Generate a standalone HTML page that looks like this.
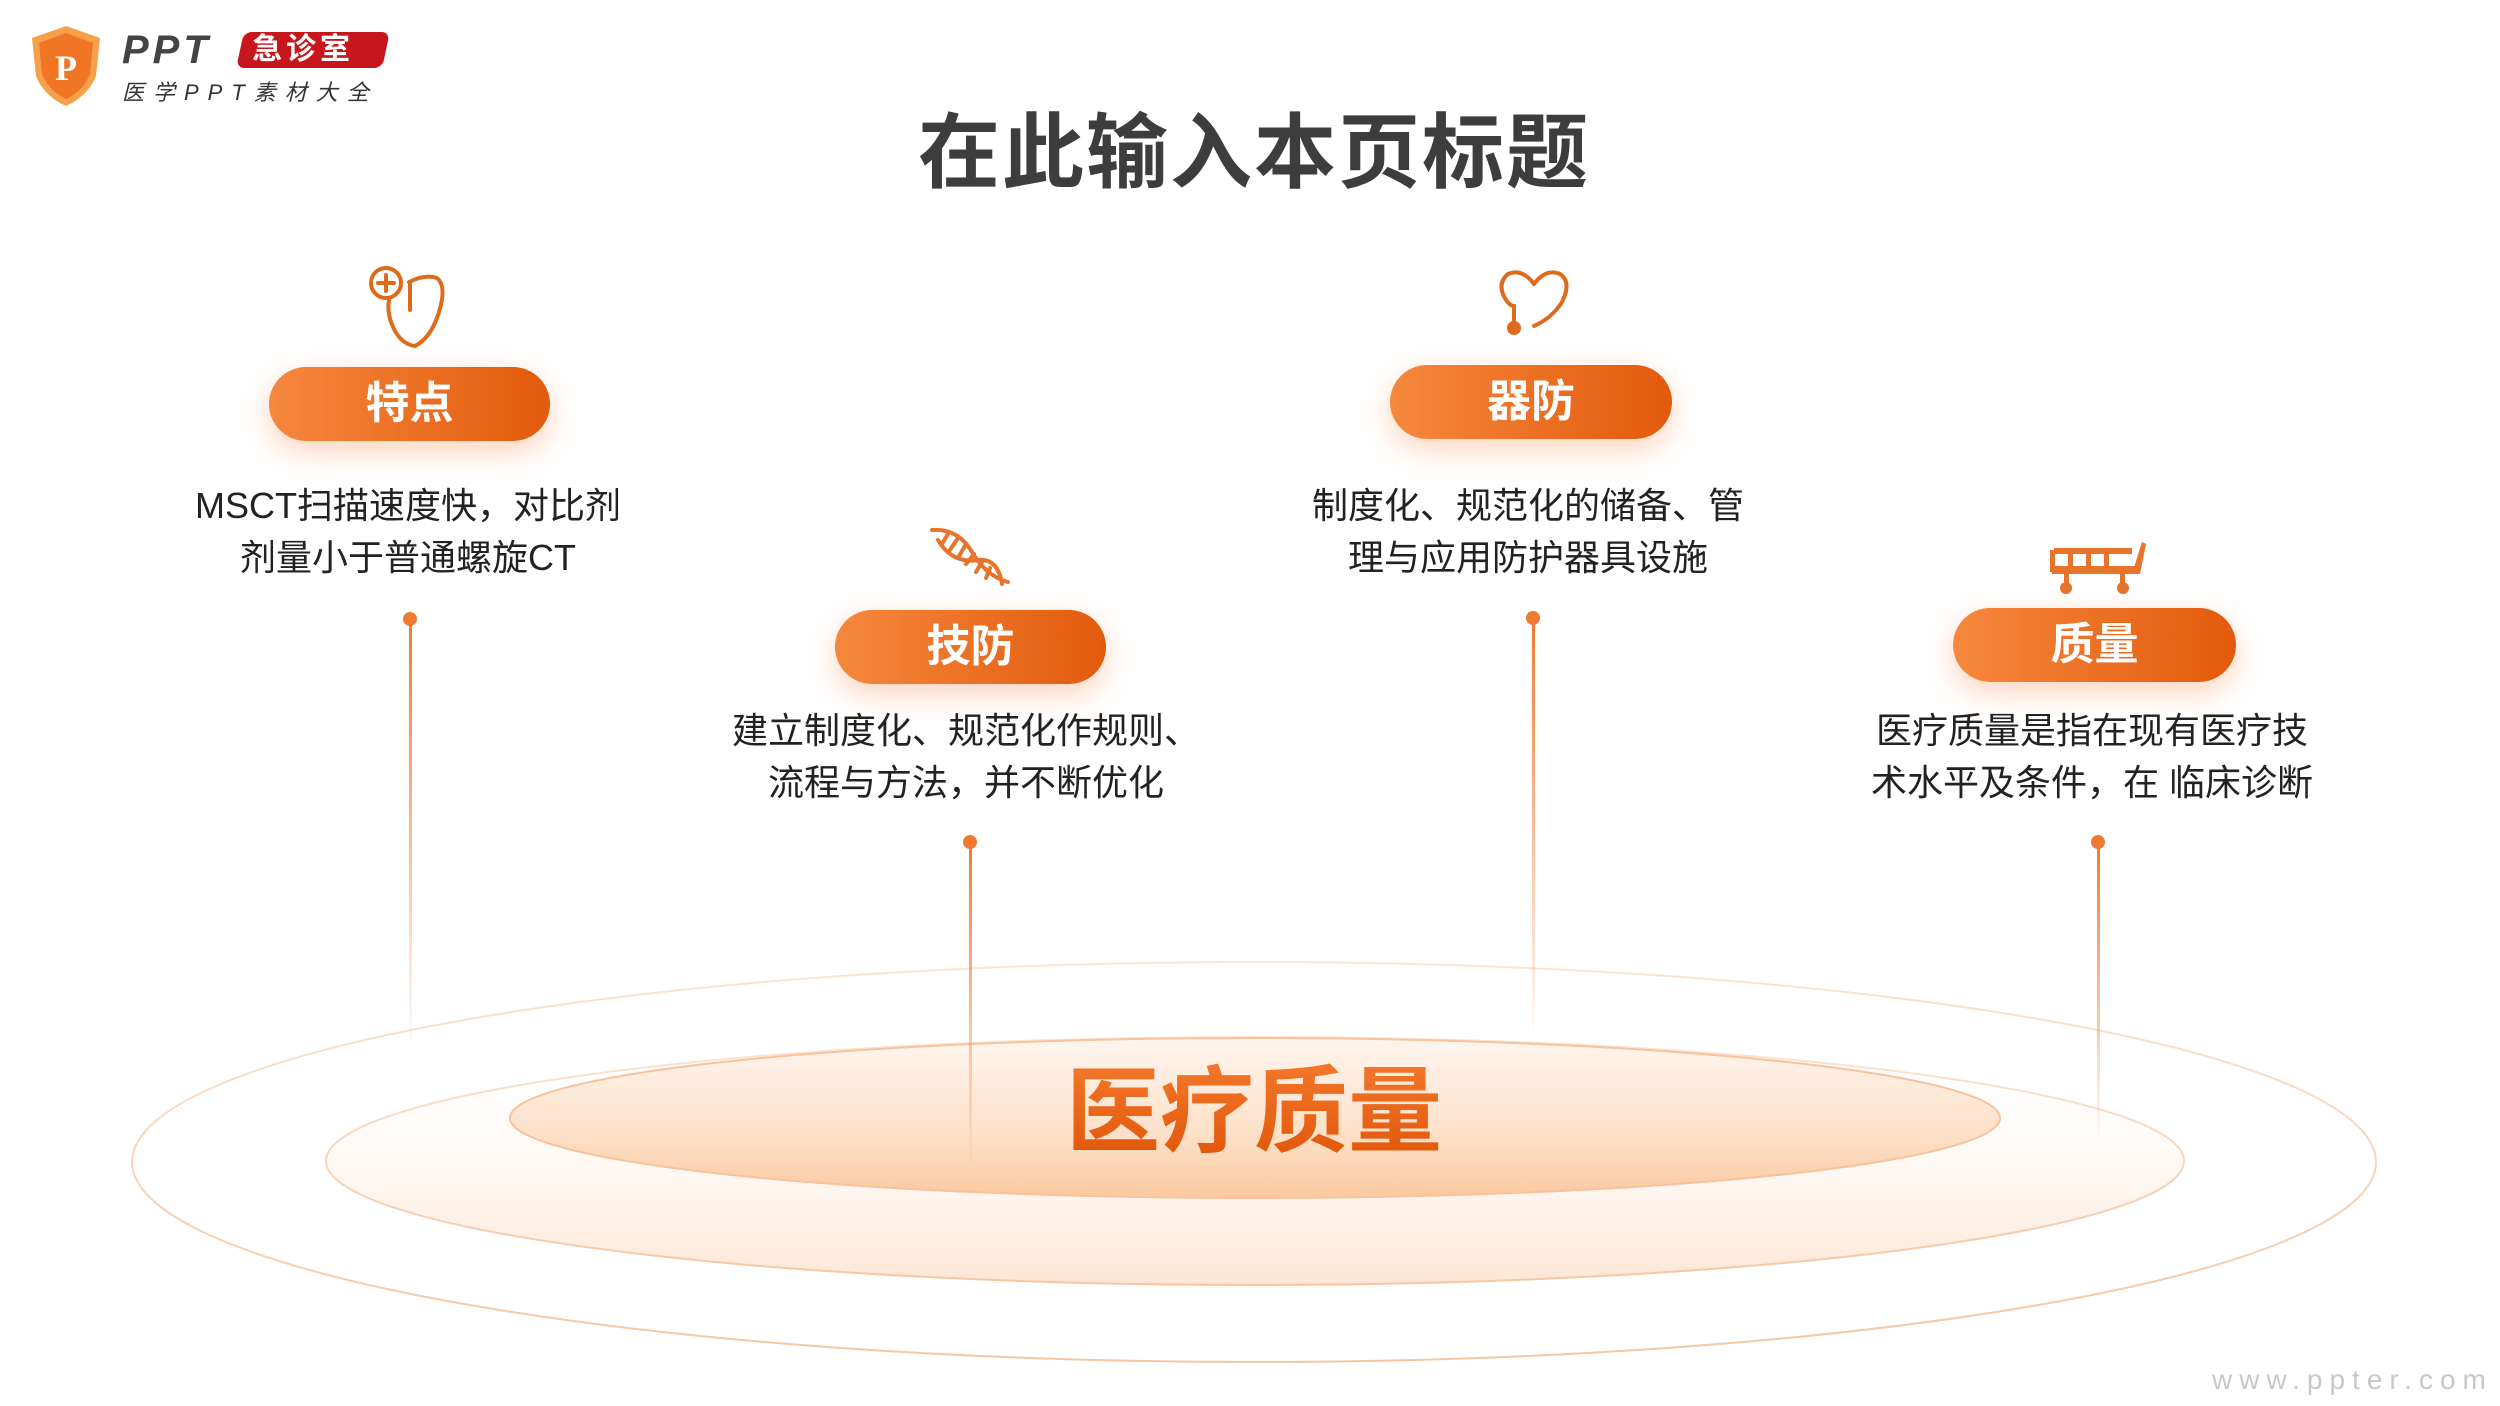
<!DOCTYPE html>
<html><head><meta charset="utf-8"><style>
html,body{margin:0;padding:0;}
body{width:2500px;height:1406px;position:relative;overflow:hidden;background:#fff;font-family:"Liberation Sans","Noto Sans CJK SC",sans-serif;}
.abs{position:absolute;}
.title{left:0;width:2508px;top:86px;text-align:center;font-size:82px;font-weight:bold;color:#3d3d3d;letter-spacing:2px;}
.pill{position:absolute;height:74px;border-radius:37px;background:linear-gradient(90deg,#f5883e,#e35a0c);color:#fff;font-weight:bold;font-size:44px;text-align:center;line-height:74px;box-shadow:0 10px 30px rgba(245,130,60,0.35);}
.txt{position:absolute;width:560px;text-align:center;font-size:36px;line-height:52px;color:#222;}
.vline{position:absolute;width:3px;background:linear-gradient(#f07a34,rgba(240,122,52,0));}
.dot{position:absolute;width:14px;height:14px;border-radius:50%;background:#f07a34;}
</style></head><body>
<!-- logo -->
<svg class="abs" style="left:28px;top:24px" width="76" height="84" viewBox="0 0 76 84">
<path d="M38 2 L72 14 L68 52 Q60 72 38 82 Q16 72 8 52 L4 14 Z" fill="#f7a04a"/>
<path d="M38 9 L65 19 L62 50 Q55 67 38 75 Q21 67 14 50 L11 19 Z" fill="#f07524"/>
<text x="38" y="56" text-anchor="middle" font-family="Liberation Serif" font-weight="bold" font-size="36" fill="#fff">P</text>
</svg>
<div class="abs" style="left:122px;top:28px;font-size:40px;font-weight:bold;font-style:italic;color:#444;letter-spacing:4px;">PPT</div>
<div class="abs" style="left:240px;top:32px;width:146px;height:36px;background:#c8161d;border-radius:8px;transform:skewX(-12deg);"></div>
<div class="abs" style="left:252px;top:32px;font-size:30px;font-weight:bold;color:#fff;letter-spacing:4px;line-height:36px;">急诊室</div>
<div class="abs" style="left:122px;top:75px;font-size:22px;color:#333;letter-spacing:9px;font-style:italic;">医学PPT素材大全</div>

<div class="abs title">在此输入本页标题</div>

<svg class="abs" style="left:0;top:0" width="2500" height="1406">
<defs>
<linearGradient id="g1" x1="0" y1="0" x2="0" y2="1"><stop offset="0" stop-color="#fff6ef"/><stop offset="0.6" stop-color="#fde0c8"/><stop offset="1" stop-color="#fbc9a0"/></linearGradient>
<linearGradient id="g2" x1="0" y1="0" x2="0" y2="1"><stop offset="0" stop-color="#fff" stop-opacity="0"/><stop offset="1" stop-color="#fde6d4"/></linearGradient>
<linearGradient id="tg" x1="0" y1="0" x2="0" y2="1"><stop offset="0" stop-color="#f4782c"/><stop offset="1" stop-color="#e05508"/></linearGradient>
<linearGradient id="s2" x1="0" y1="0" x2="0" y2="1"><stop offset="0" stop-color="#fbe4d4"/><stop offset="1" stop-color="#f6c6a4"/></linearGradient>
</defs>
<ellipse cx="1254" cy="1162" rx="1122" ry="200" fill="none" stroke="url(#s2)" stroke-width="2"/>
<ellipse cx="1255" cy="1161" rx="929" ry="124" fill="url(#g2)" stroke="url(#s2)" stroke-width="2"/>
<ellipse cx="1255" cy="1118" rx="745" ry="80" fill="url(#g1)" stroke="#f7c29c" stroke-width="2"/>
<text x="1254" y="1144" text-anchor="middle" font-family="Liberation Sans, Noto Sans CJK SC, sans-serif" font-weight="bold" font-size="94" fill="url(#tg)">医疗质量</text>
</svg>

<!-- icons -->
<svg class="abs" style="left:365px;top:262px" width="90" height="90" viewBox="0 0 90 90">
<g fill="none" stroke="#e06a1c" stroke-width="4" stroke-linecap="round">
<path d="M44 20 Q60 12 72 16 Q82 24 74 50 Q66 76 50 84 Q34 82 26 60 Q22 48 24 38"/>
<circle cx="21" cy="21" r="15"/><path d="M21 13v16M13 21h16"/><path d="M45 22v26"/></g></svg>
<svg class="abs" style="left:1488px;top:262px" width="90" height="84" viewBox="0 0 90 84">
<g fill="none" stroke="#e06a1c" stroke-width="4" stroke-linecap="round">
<path d="M46 22 Q58 6 72 12 Q84 20 74 40 Q64 56 46 64"/><path d="M46 22 Q34 6 20 12 Q8 22 18 38 Q22 44 26 44"/><path d="M26 44v14"/></g>
<circle cx="26" cy="66" r="7" fill="#e06a1c"/></svg>
<svg class="abs" style="left:928px;top:524px" width="84" height="64" viewBox="0 0 84 64">
<g stroke="#e8732a" stroke-width="4" fill="none" stroke-linecap="round">
<path d="M4 6 Q30 4 44 28 Q58 52 80 58"/><path d="M10 16 Q24 40 50 36 Q70 34 74 60"/>
<path d="M20 10l-6 10M30 14l-8 12M38 20l-8 14M46 30l-8 10M54 38l-6 10M62 44l-4 10"/></g></svg>
<svg class="abs" style="left:2048px;top:540px" width="100" height="56" viewBox="0 0 100 56">
<g fill="#e8732a"><rect x="6" y="8" width="78" height="6"/><rect x="4" y="26" width="84" height="8"/><rect x="20" y="8" width="5" height="20"/><rect x="38" y="8" width="5" height="20"/><rect x="56" y="8" width="5" height="20"/><rect x="2" y="10" width="5" height="22"/>
<path d="M84 34 L94 2 L98 4 L92 34Z"/><rect x="16" y="34" width="5" height="10"/><rect x="72" y="34" width="5" height="10"/><circle cx="18" cy="48" r="6"/><circle cx="75" cy="48" r="6"/></g></svg>

<!-- pills -->
<div class="pill" style="left:269px;top:367px;width:281px;">特点</div>
<div class="pill" style="left:1390px;top:365px;width:282px;">器防</div>
<div class="pill" style="left:835px;top:610px;width:271px;">技防</div>
<div class="pill" style="left:1953px;top:608px;width:283px;">质量</div>

<!-- texts -->
<div class="txt" style="left:128px;top:480px;">MSCT扫描速度快，对比剂<br>剂量小于普通螺旋CT</div>
<div class="txt" style="left:1248px;top:480px;">制度化、规范化的储备、管<br>理与应用防护器具设施</div>
<div class="txt" style="left:686px;top:705px;">建立制度化、规范化作规则、<br>流程与方法，并不断优化</div>
<div class="txt" style="left:1812px;top:705px;">医疗质量是指在现有医疗技<br>术水平及条件，在 临床诊断</div>

<!-- lines -->
<div class="dot" style="left:403px;top:612px"></div><div class="vline" style="left:409px;top:620px;height:430px"></div>
<div class="dot" style="left:1526px;top:611px"></div><div class="vline" style="left:1532px;top:619px;height:420px"></div>
<div class="dot" style="left:963px;top:835px"></div><div class="vline" style="left:969px;top:842px;height:330px"></div>
<div class="dot" style="left:2091px;top:835px"></div><div class="vline" style="left:2097px;top:842px;height:300px"></div>

<div class="abs" style="left:2212px;top:1364px;font-size:28px;color:#c8c8c8;letter-spacing:7px;">www.ppter.com</div>
</body></html>
